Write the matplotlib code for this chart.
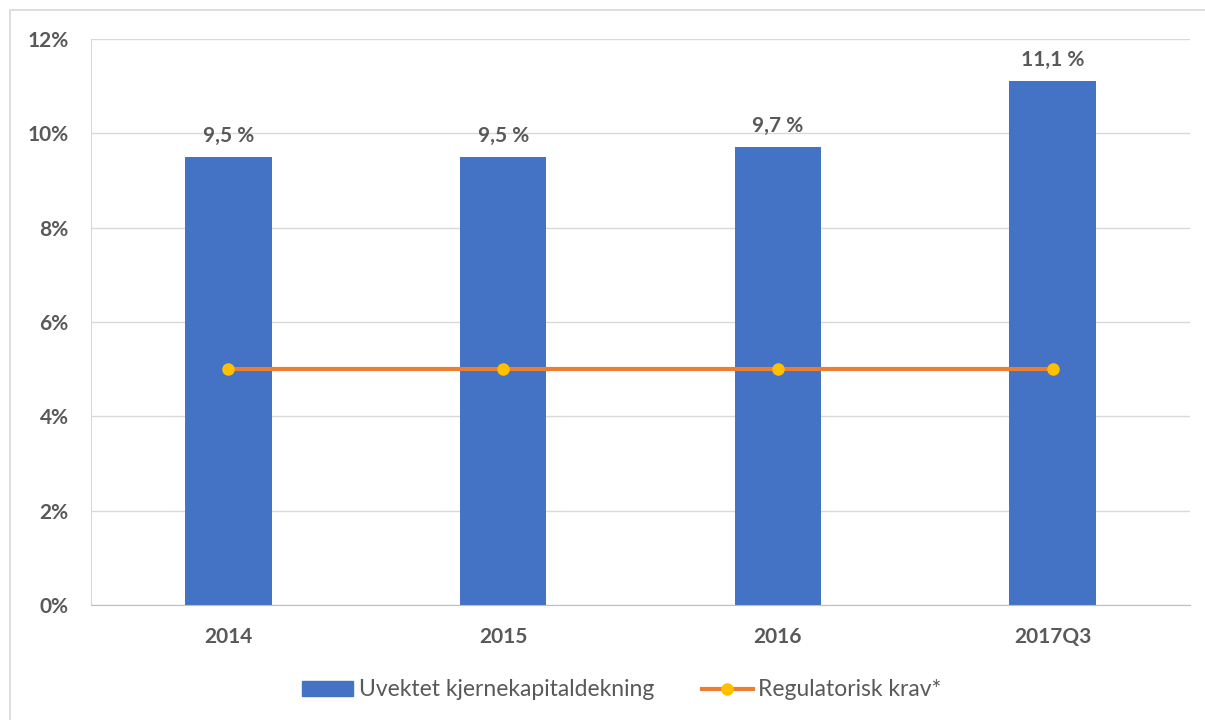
import matplotlib
matplotlib.use("Agg")
import matplotlib.pyplot as plt
from matplotlib.patches import Rectangle
from matplotlib.lines import Line2D
from matplotlib.ticker import FuncFormatter

categories = ["2014", "2015", "2016", "2017Q3"]
uvektet = [9.5, 9.5, 9.7, 11.1]
krav = [5.0, 5.0, 5.0, 5.0]
bar_labels = ["9,5 %", "9,5 %", "9,7 %", "11,1 %"]
yticks = [0, 2, 4, 6, 8, 10, 12]

plt.rcParams['font.family'] = ['Lato', 'DejaVu Sans']
txt = '#595959'
W, H = 1205, 720
fig = plt.figure(figsize=(W/100, H/100), dpi=100)
ax = fig.add_axes([91/W, 1-605/H, (1190-91)/W, (605-39)/H])

x = list(range(len(categories)))
ax.bar(x, uvektet, width=0.315, color='#4472C4', zorder=2)
ax.plot(x, krav, color='#ED7D31', lw=3, marker='o', ms=8,
        markerfacecolor='#FFC000', markeredgecolor='#FFC000', zorder=3)
for xi, v, lab in zip(x, uvektet, bar_labels):
    ax.annotate(lab, (xi, v), xytext=(0, 8), textcoords='offset points',
                ha='center', va='bottom', fontsize=15, fontweight='bold', color=txt)

ax.set_xlim(-0.5, 3.5)
ax.set_ylim(0, 12)
ax.set_yticks(yticks)
ax.yaxis.set_major_formatter(FuncFormatter(lambda v, p: f"{int(v)}%"))
ax.set_xticks(x)
ax.set_xticklabels(categories)
ax.grid(axis='y', color='#D9D9D9', lw=1, zorder=0)
ax.set_axisbelow(True)
for s in ['top', 'right']:
    ax.spines[s].set_visible(False)
ax.spines['left'].set_color('#D9D9D9')
ax.spines['bottom'].set_color('#BFBFBF')
ax.tick_params(axis='both', length=0, colors=txt, labelsize=15)
ax.tick_params(axis='y', pad=16)
ax.tick_params(axis='x', pad=16)
for lab in ax.get_xticklabels() + ax.get_yticklabels():
    lab.set_fontweight('bold')

fig.patches.append(Rectangle((10/W, -0.05), 1.1, 1-10/H+0.05, transform=fig.transFigure,
                             fill=False, edgecolor='#D9D9D9', lw=1.2))

handles = [Rectangle((0, 0), 1, 1, color='#4472C4'),
           Line2D([], [], color='#ED7D31', lw=3, marker='o', ms=8,
                  markerfacecolor='#FFC000', markeredgecolor='#FFC000')]
fig.legend(handles, ["Uvektet kjernekapitaldekning", "Regulatorisk krav*"],
           loc='center', bbox_to_anchor=(622/W, 1-690/H), ncol=2, frameon=False,
           fontsize=16.5, labelcolor=txt, handlelength=2.2, handleheight=0.6,
           handletextpad=0.25, columnspacing=2.1)

fig.savefig("out.png", dpi=100)
